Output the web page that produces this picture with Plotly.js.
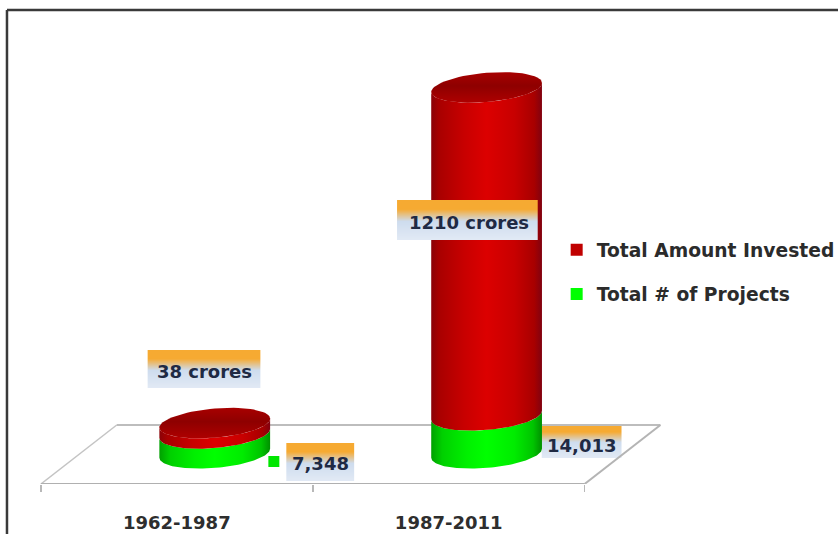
<!DOCTYPE html>
<html>
<head>
<meta charset="utf-8">
<script src="https://cdn.plot.ly/plotly-3.0.1.min.js"></script>
<style>html,body{margin:0;padding:0;background:#fff}#chart{width:840px;height:534px}</style>
</head>
<body>
<div id="chart"></div>
<script>
// Chart data
const periods = ['1962-1987', '1987-2011'];
const amountInvested = [38, 1210];
const projectCount = [7348, 14013];
const amountLabels = ['38 crores', '1210 crores'];
const projectLabels = ['7,348', '14,013'];
const seriesNames = ['Total Amount Invested', 'Total # of Projects'];

// Page and axis geometry
const W = 840, H = 534, plotH = 484;
const xPerPx = 2 / 545;                 // two categories across 545 px of floor
const yPerPx = 1 / 0.271;               // stack units per pixel
const xRange = [-0.5 - 41 * xPerPx, 1.5 + 254 * xPerPx];
const yRange = [0, plotH * yPerPx];
const projectUnit = 0.01;               // stack units for one project
const floorDepth = 59 * yPerPx;
const floorSkew = 76 * xPerPx;
const radiusX = 55.5 * xPerPx;
const radiusY = 14.6 * yPerPx;
const tilt = 4.5 * yPerPx;

const px = v => v / W;
const py = v => 1 - v / plotH;

// Elliptical arc of a cylinder cross-section, t in degrees
function arc(cx, cy, from, to) {
  const xs = [], ys = [];
  const n = 72;
  for (let i = 0; i <= n; i++) {
    const t = (from + (to - from) * i / n) * Math.PI / 180;
    xs.push(cx + radiusX * Math.cos(t));
    ys.push(cy + radiusY * Math.sin(t) + tilt * Math.cos(t));
  }
  return {xs, ys};
}

// Side wall between two heights: front arc at the bottom, back along the top edge
function wall(cx, y0, y1, colorscale) {
  const low = arc(cx, y0, 180, 360);
  const high = arc(cx, y1, 360, 180);
  return {
    type: 'scatter', mode: 'lines', x: low.xs.concat(high.xs), y: low.ys.concat(high.ys),
    fill: 'toself', line: {width: 0}, hoverinfo: 'skip', showlegend: false,
    fillgradient: {type: 'horizontal', colorscale}
  };
}

function lid(cx, y, colorscale) {
  const e = arc(cx, y, 0, 360);
  return {
    type: 'scatter', mode: 'lines', x: e.xs, y: e.ys,
    fill: 'toself', line: {width: 0}, hoverinfo: 'skip', showlegend: false,
    fillgradient: {type: 'vertical', colorscale}
  };
}

const redSide = [[0, '#8a0208'], [0.07, '#a80000'], [0.3, '#c80000'], [0.5, '#dc0000'], [0.75, '#c80000'], [0.93, '#a80000'], [1, '#800210']];
const greenSide = [[0, '#00a000'], [0.1, '#00d000'], [0.32, '#00f000'], [0.5, '#00ff00'], [0.75, '#00ec00'], [0.92, '#00c400'], [1, '#009000']];
const redLid = [[0, '#ae0000'], [0.55, '#8e0000'], [1, '#a80000']];

const traces = [];
periods.forEach((p, i) => {
  const cx = i + floorSkew / 2;
  const base = floorDepth * 0.52;
  const mid = base + projectCount[i] * projectUnit;
  const top = mid + amountInvested[i];
  traces.push(wall(cx, base, mid, greenSide));
  traces.push(wall(cx, mid, top, redSide));
  traces.push(lid(cx, top, redLid));
});

// Legend-only entries
['#c00000', '#00ff00'].forEach((c, i) => {
  traces.push({
    type: 'scatter', mode: 'markers', x: [null], y: [null], name: seriesNames[i],
    legendgroup: 'g' + i, marker: {symbol: 'square', size: 12, color: c}, hoverinfo: 'skip'
  });
});

// Floor outline, in axis units
const floorLine = (x0, y0, x1, y1, color, width) => ({
  type: 'line', xref: 'x', yref: 'y', x0, y0, x1, y1, layer: 'below',
  line: {color, width}
});
const shapes = [
  floorLine(-0.5 + floorSkew, floorDepth, 1.5 + floorSkew, floorDepth, '#bdbdbd', 2),
  floorLine(-0.5, 0, -0.5 + floorSkew, floorDepth, '#c4c4c4', 1.5),
  floorLine(1.5, 0, 1.5 + floorSkew, floorDepth, '#b4b4b4', 2),
  floorLine(-0.5, 0, 1.5, 0, '#b0b0b0', 2)
];

// Outer frame, open on the right and the bottom
const frameLine = (x0, y0, x1, y1) => ({
  type: 'line', xref: 'paper', yref: 'paper', x0: px(x0), y0: py(y0), x1: px(x1), y1: py(y1),
  line: {color: '#3a3a3a', width: 2.5}
});
shapes.push(frameLine(7, 10, 840, 10), frameLine(7, 10, 7, 534));

// Data-label plates: orange band fading into pale blue
function mix(a, b, t) {
  return 'rgb(' + a.map((v, k) => Math.round(v + (b[k] - v) * t)).join(',') + ')';
}
function plate(x0, y0, x1, y1, layer) {
  const h = y1 - y0;
  const orange = [246, 170, 50], pale = [206, 220, 238], end = [226, 234, 245];
  for (let k = 0; k < h; k++) {
    const f = k / h;
    let col;
    if (f < 0.22) col = mix(orange, orange, 0);
    else if (f < 0.52) col = mix(orange, pale, (f - 0.22) / 0.3);
    else col = mix(pale, end, (f - 0.52) / 0.48);
    shapes.push({
      type: 'rect', xref: 'paper', yref: 'paper', layer,
      x0: px(x0), x1: px(x1), y0: py(y0 + k), y1: py(y0 + k + 1),
      line: {width: 0}, fillcolor: col
    });
  }
}
plate(148, 350, 261, 388, 'above');
plate(398, 200, 539, 240, 'above');
plate(287, 443, 355, 481, 'below');
plate(543, 424, 623, 458, 'below');

// Small green key beside the first project count
shapes.push({
  type: 'rect', xref: 'paper', yref: 'paper', layer: 'above',
  x0: px(269), x1: px(280), y0: py(456), y1: py(467),
  line: {width: 0}, fillcolor: '#00e600'
});

const labelFont = {family: 'DejaVu Sans', size: 18, color: '#1f2a44', weight: 700};
const note = (text, x, y) => ({
  text, xref: 'paper', yref: 'paper', x: px(x), y: py(y),
  xanchor: 'center', yanchor: 'middle', showarrow: false, font: labelFont
});
const annotations = [
  note(amountLabels[0], 205, 371),
  note(amountLabels[1], 470, 222),
  note(projectLabels[0], 321, 463),
  note(projectLabels[1], 583, 445)
];

const layout = {
  width: W, height: H,
  margin: {l: 0, r: 0, t: 0, b: H - plotH, pad: 0},
  paper_bgcolor: '#ffffff', plot_bgcolor: '#ffffff',
  showlegend: true,
  legend: {
    x: px(558), xanchor: 'left', y: py(231), yanchor: 'top',
    font: {family: 'DejaVu Sans', size: 18.7, color: '#2b2b2b', weight: 700},
    tracegroupgap: 17, bgcolor: 'rgba(0,0,0,0)', traceorder: 'grouped'
  },
  xaxis: {
    range: xRange, tickmode: 'array', tickvals: [0, 1], ticktext: periods,
    ticks: '', showgrid: false, zeroline: false, showline: false, fixedrange: true,
    ticklabelstandoff: 26,
    tickfont: {family: 'DejaVu Sans', size: 18, color: '#2e2e2e', weight: 700},
    minor: {tickmode: 'array', tickvals: [-0.5, 0.5, 1.5], ticks: 'outside', ticklen: 7, tickwidth: 1.5, tickcolor: '#b8b8b8', showgrid: false}
  },
  yaxis: {range: yRange, visible: false, fixedrange: true},
  shapes, annotations
};

Plotly.newPlot('chart', traces, layout, {displayModeBar: false, staticPlot: true});
</script>
</body>
</html>
